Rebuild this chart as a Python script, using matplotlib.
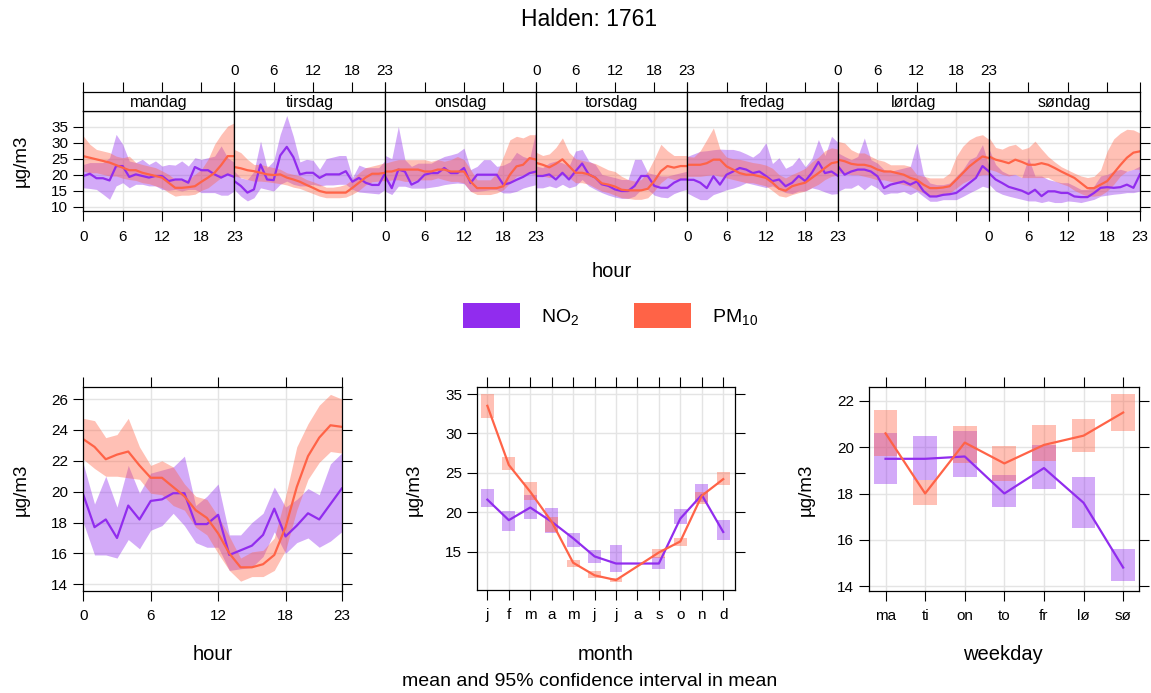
import numpy as np
import matplotlib
matplotlib.use('Agg')
import matplotlib.pyplot as plt
from matplotlib.patches import Rectangle

plt.rcParams['font.family'] = ['Liberation Sans', 'DejaVu Sans']
plt.rcParams['mathtext.default'] = 'regular'

# ---- data -------------------------------------------------------------
days = ['mandag', 'tirsdag', 'onsdag', 'torsdag', 'fredag', 'lørdag', 'søndag']
hours = np.arange(24)

# day-hour NO2 (mean, lower, upper)
no2_mean = [
    [19.6,20.3,18.9,18.9,18.2,22.7,22.7,19.3,20.1,19.6,19.1,19.6,19.6,18.0,18.5,18.5,17.5,22.4,21.4,21.4,20.1,19.1,20.1,19.3],
    [18.0,16.5,14.4,15.4,23.2,18.5,18.3,26.0,28.7,25.5,20.1,20.6,20.6,19.0,20.1,20.1,20.1,21.1,17.8,19.0,17.5,16.8,16.8,20.6],
    [19.5,15.8,21.6,21.0,16.9,17.9,20.0,20.5,20.5,22.1,20.5,20.5,22.1,17.4,20.0,20.0,20.0,20.0,16.9,17.4,18.4,19.3,20.5,21.0],
    [19.6,19.6,20.1,18.5,20.6,18.5,21.1,23.5,20.1,19.1,17.0,16.5,15.4,14.9,14.9,16.5,19.6,19.6,16.5,15.9,15.9,17.5,18.5,18.5],
    [18.4,18.4,17.5,15.8,19.5,16.9,20.0,21.0,22.1,21.6,20.5,21.0,19.6,18.0,18.5,16.4,17.5,19.6,18.0,20.6,24.0,20.5,21.0,19.6],
    [22.6,20.0,21.0,21.6,21.6,21.0,19.5,15.8,16.9,17.4,17.9,16.9,17.9,14.9,13.2,13.2,13.7,13.9,14.3,15.8,17.4,19.0,22.7,21.0],
    [20.5,18.5,17.4,16.2,15.6,15.0,14.0,15.3,13.3,14.8,14.8,14.3,14.3,13.2,13.0,13.0,14.3,15.9,16.1,15.9,16.1,16.9,15.9,20.1],
]
no2_lo = [
    [15.9,15.7,15.4,13.9,12.3,16.5,17.5,15.9,17.0,17.0,16.5,16.5,15.4,15.1,15.4,14.9,15.4,15.4,14.4,14.4,14.4,13.6,13.6,14.9],
    [15.4,13.3,11.8,12.8,15.9,15.4,14.9,17.0,18.0,17.0,16.5,16.5,17.0,16.5,16.8,16.8,17.0,17.0,15.4,14.6,14.4,14.2,14.0,15.4],
    [14.8,13.8,16.4,16.4,15.8,15.8,15.8,16.1,16.4,16.9,17.2,17.4,17.2,14.8,14.8,15.0,15.3,15.3,14.3,14.3,14.8,15.8,16.4,16.9],
    [15.9,15.9,16.5,15.9,17.0,15.9,16.5,18.5,16.5,15.4,14.4,13.6,13.0,12.6,12.6,13.3,15.4,15.4,13.6,13.0,12.8,14.1,14.9,15.4],
    [14.3,13.2,12.2,12.2,13.8,14.5,15.3,15.8,16.5,17.5,17.0,16.5,16.0,16.5,15.4,14.4,14.1,14.9,14.9,15.9,15.4,14.6,13.9,14.1],
    [14.8,15.8,15.8,16.9,15.3,16.9,15.8,13.8,14.3,14.3,14.8,13.8,14.8,13.2,11.7,11.7,12.2,12.2,12.2,13.2,14.3,15.3,16.4,15.8],
    [17.0,14.9,13.9,13.3,12.8,12.3,11.8,11.8,11.3,11.8,11.3,11.3,11.8,11.6,11.3,11.8,12.3,13.3,13.6,13.9,14.1,14.4,14.4,14.9],
]
no2_hi = [
    [23.2,23.8,23.8,23.8,25.3,32.6,29.5,24.3,23.8,24.8,23.2,24.3,22.7,23.2,23.0,24.3,22.7,25.3,24.8,25.3,25.8,29.0,25.3,23.8],
    [21.1,19.0,18.5,21.0,30.5,22.2,24.3,32.6,38.5,32.0,24.0,24.8,24.5,21.7,25.0,25.5,26.0,26.0,19.1,23.0,22.2,22.2,22.2,24.5],
    [26.0,25.0,35.1,24.7,22.6,23.6,23.6,23.6,24.7,25.7,26.2,26.8,28.3,21.6,22.6,24.7,24.7,22.6,23.0,24.0,27.0,25.7,25.0,34.0],
    [22.7,22.2,23.7,24.3,23.7,22.7,27.4,27.9,24.3,23.2,20.1,19.6,19.1,18.5,18.5,24.8,24.8,20.6,20.1,19.6,19.6,20.1,20.6,21.1],
    [25.7,26.5,27.3,27.5,27.8,28.0,27.9,27.9,27.4,26.5,25.5,27.0,30.0,23.5,25.3,22.0,23.0,25.5,22.5,25.0,31.0,26.0,32.0,30.0],
    [26.8,25.7,24.7,25.7,31.5,24.7,23.6,21.6,21.0,21.6,22.1,22.6,29.9,20.0,17.4,16.9,16.9,17.4,19.5,21.6,24.7,25.7,29.4,22.6],
    [28.0,23.2,21.1,20.1,20.1,19.1,25.3,19.6,19.6,18.5,18.0,17.5,17.5,16.5,15.4,15.4,16.5,19.6,20.1,21.1,21.7,21.1,21.7,22.7],
]

# day-hour PM10 (mean, lower, upper)
pm_mean = [
    [25.8,25.3,24.8,24.3,23.8,23.0,22.2,21.4,21.4,20.6,20.1,19.6,19.1,17.5,15.9,15.9,16.1,16.4,17.8,19.1,20.6,23.0,25.8,25.8],
    [22.4,22.0,21.4,21.1,20.6,20.1,19.9,20.1,19.1,18.5,17.8,16.8,15.9,14.9,14.4,14.4,14.4,14.4,15.9,17.5,19.1,20.3,20.3,20.6],
    [21.0,21.0,21.6,21.6,21.6,21.6,21.0,21.0,21.6,21.6,21.0,21.0,21.0,17.9,15.8,15.8,15.8,15.8,16.4,20.0,22.6,23.1,25.2,24.7],
    [23.7,23.1,22.3,23.4,24.8,22.7,20.6,20.6,20.1,19.1,17.3,16.9,16.3,15.3,15.1,15.1,15.1,15.6,18.0,21.1,22.7,22.2,22.7,22.7],
    [23.1,23.1,23.1,23.6,24.7,24.7,22.6,21.6,20.5,20.0,20.0,19.5,19.0,17.5,15.6,15.0,16.4,17.0,17.5,19.0,20.5,22.1,23.6,24.0],
    [24.7,24.2,23.4,23.1,23.1,22.6,21.6,21.0,21.0,20.5,20.0,19.0,18.4,16.9,15.8,15.8,16.0,16.4,18.4,20.5,22.6,24.2,25.7,25.2],
    [25.7,24.7,24.2,23.6,24.7,24.0,23.1,23.1,23.6,23.1,22.1,21.0,20.0,19.0,17.4,15.8,15.8,16.9,18.0,20.5,23.0,25.3,26.9,27.3],
]
pm_lo = [
    [21.1,20.6,20.6,20.1,19.6,19.6,18.9,18.5,18.2,17.5,17.2,16.5,15.9,14.4,13.3,13.6,13.6,13.9,15.1,15.9,17.5,19.1,20.1,20.1],
    [19.6,19.1,18.5,18.0,18.0,17.8,17.5,17.2,16.8,16.1,15.7,14.9,14.1,13.3,12.8,12.8,12.8,13.0,13.9,15.1,16.8,17.8,18.0,18.2],
    [17.9,18.4,18.4,17.9,17.9,18.4,18.4,18.4,19.0,18.4,17.9,17.9,17.4,14.8,13.8,13.8,13.8,14.3,15.3,17.4,19.5,20.0,20.5,20.0],
    [19.6,19.6,19.1,19.6,20.1,19.1,17.5,17.5,17.0,15.9,14.9,14.4,13.6,12.8,12.6,12.3,12.3,12.8,14.9,17.5,19.1,18.5,18.5,18.5],
    [19.5,19.5,19.5,19.8,20.0,19.5,19.0,18.5,18.0,17.5,17.5,17.0,16.5,15.0,13.4,13.0,13.8,14.4,14.9,16.0,17.0,18.5,19.5,20.0],
    [20.5,20.5,20.0,20.0,19.5,19.0,18.4,18.4,17.9,17.4,16.9,16.4,15.3,14.3,13.2,13.2,13.8,14.3,15.8,17.4,18.4,19.5,20.0,20.0],
    [21.7,21.1,20.1,19.6,20.1,19.1,19.1,19.1,19.1,19.1,18.0,17.2,16.5,15.1,14.1,13.3,13.3,13.6,14.9,17.0,19.6,21.1,21.7,21.7],
]
pm_hi = [
    [32.1,29.5,27.9,27.4,26.9,25.8,25.3,25.8,23.8,23.2,22.7,22.2,21.2,20.1,18.5,18.2,18.5,20.1,21.7,24.8,29.5,32.6,35.2,36.2],
    [27.9,26.9,24.8,23.2,23.2,22.7,22.2,21.7,20.6,20.1,19.6,18.5,17.8,17.0,16.1,16.1,16.4,17.0,18.5,20.6,22.2,22.7,23.2,23.8],
    [23.6,24.2,24.7,24.7,24.7,24.7,24.7,24.2,24.7,24.2,24.7,25.7,24.7,21.6,18.4,18.4,18.4,20.5,25.7,30.9,32.0,31.5,32.5,32.5],
    [27.0,26.0,26.5,28.5,31.5,27.0,25.0,24.5,24.0,23.5,22.5,21.5,21.0,19.5,18.5,18.0,18.5,21.0,25.0,29.5,27.5,26.0,26.0,26.0],
    [25.7,25.5,27.5,31.0,34.6,28.0,25.5,25.0,24.8,24.3,23.8,23.5,23.0,22.0,20.0,19.0,20.1,21.0,22.0,24.0,25.5,27.5,28.4,28.0],
    [30.4,29.9,27.8,26.8,26.8,25.7,24.7,24.2,23.1,23.1,23.1,22.6,20.0,19.5,19.0,19.0,19.0,20.5,25.7,28.9,30.9,32.0,32.5,31.0],
    [31.6,28.5,28.0,29.0,29.5,27.9,28.5,30.5,28.0,25.7,24.0,22.5,21.5,20.5,19.6,19.1,19.5,21.5,27.4,31.2,33.0,34.2,34.0,33.0],
]

# hour of day
hr_no2 = [19.8,17.7,18.2,17.0,19.1,18.2,19.4,19.5,19.9,19.9,17.9,17.9,18.5,15.9,16.2,16.5,17.2,18.9,17.1,17.8,18.6,18.2,19.2,20.2]
hr_no2_lo = [18.0,15.9,15.9,15.7,16.9,16.3,17.5,17.8,18.6,17.8,16.7,16.4,16.4,14.9,15.0,15.1,15.8,17.4,16.0,16.7,17.0,16.4,16.8,17.4]
hr_no2_hi = [21.8,19.2,21.0,19.0,21.7,19.9,21.2,21.4,21.6,22.3,19.1,19.7,20.5,17.2,17.2,18.0,18.6,20.3,19.0,19.5,20.2,19.8,21.8,22.5]
hr_pm = [23.4,22.9,22.1,22.4,22.6,21.7,20.9,20.9,20.3,19.7,18.8,18.3,17.3,16.0,15.1,15.1,15.3,15.9,17.7,20.3,22.3,23.5,24.3,24.2]
hr_pm_lo = [22.1,21.5,21.0,21.0,20.9,20.8,19.9,19.8,19.1,18.8,17.7,17.2,16.0,14.9,14.2,14.5,14.5,14.9,16.2,18.8,20.8,21.9,22.6,22.5]
hr_pm_hi = [24.75,24.6,23.5,23.7,24.75,22.9,21.7,22.0,21.6,20.5,19.7,19.5,18.4,17.1,15.7,16.1,16.2,17.0,19.7,22.9,24.4,25.6,26.3,26.0]

# month (August missing)
months = ['j', 'f', 'm', 'a', 'm', 'j', 'j', 'a', 's', 'o', 'n', 'd']
mon_no2 = [21.6,19.0,20.6,18.8,16.7,14.4,13.5,np.nan,13.5,19.2,22.2,17.5]
mon_no2_lo = [20.7,17.6,19.2,17.4,15.6,13.6,12.4,np.nan,12.8,18.5,21.3,16.5]
mon_no2_hi = [22.9,20.1,22.2,20.6,17.4,15.2,15.8,np.nan,14.3,20.4,23.6,19.0]
mon_pm = [33.5,26.0,22.6,18.8,13.6,12.0,11.4,np.nan,14.9,16.3,22.1,24.2]
mon_pm_lo = [31.9,25.4,21.6,17.5,13.1,11.7,11.2,np.nan,14.2,15.7,21.1,23.5]
mon_pm_hi = [35.0,27.0,23.9,19.4,13.9,12.5,11.7,np.nan,15.4,16.7,22.6,25.1]

# weekday
wdays = ['ma', 'ti', 'on', 'to', 'fr', 'lø', 'sø']
wd_no2 = [19.5,19.5,19.6,18.0,19.1,17.6,14.8]
wd_no2_lo = [18.4,18.6,18.7,17.4,18.2,16.5,14.2]
wd_no2_hi = [20.6,20.5,20.7,18.8,20.1,18.7,15.6]
wd_pm = [20.6,18.0,20.2,19.3,20.1,20.5,21.5]
wd_pm_lo = [19.6,17.5,19.3,18.55,19.4,19.8,20.7]
wd_pm_hi = [21.6,18.6,20.9,20.05,20.95,21.2,22.3]

# ---- style ------------------------------------------------------------
PURPLE = '#912CEE'
TOMATO = '#FF6347'
GRID = '#E4E4E4'
ALPHA = 0.4
TICK_FS = 11
LAB_FS = 14.5
W, H = 1151, 693

fig = plt.figure(figsize=(W / 100, H / 100), dpi=100)


def add_ax(x0, y0, x1, y1):
    return fig.add_axes([x0 / W, 1 - y1 / H, (x1 - x0) / W, (y1 - y0) / H])


def frame(ax):
    for s in ax.spines.values():
        s.set_color('black')
        s.set_linewidth(0.9)
    ax.tick_params(direction='out', length=7, width=0.8, labelsize=TICK_FS,
                   colors='black', pad=4)


def band(ax, x, lo, hi, mean, col):
    ax.fill_between(x, lo, hi, color=col, alpha=ALPHA, lw=0)
    ax.plot(x, mean, color=col, lw=1.6)


# ---- day-hour panels --------------------------------------------------
DW = (1140 - 83.3) / 7
for i, day in enumerate(days):
    x0 = 83.3 + i * DW
    ax = add_ax(x0, 110.7, x0 + DW, 210.7)
    st = add_ax(x0, 91.7, x0 + DW, 110.7)
    ax.set_xlim(0, 23)
    ax.set_ylim(8.75, 40)
    for v in range(10, 40, 5):
        ax.axhline(v, color=GRID, lw=1, zorder=0)
    for v in (6, 12, 18):
        ax.axvline(v, color=GRID, lw=1, zorder=0)
    band(ax, hours, no2_lo[i], no2_hi[i], no2_mean[i], PURPLE)
    band(ax, hours, pm_lo[i], pm_hi[i], pm_mean[i], TOMATO)
    frame(ax)
    ax.set_xticks([0, 6, 12, 18, 23])
    ax.tick_params(axis='x', labelbottom=(i % 2 == 0), pad=7)
    ax.set_yticks(range(10, 40, 5))
    if i == 0:
        ax.tick_params(axis='y', left=True, labelleft=True)
    elif i == 6:
        ax.tick_params(axis='y', left=False, labelleft=False, right=True)
    else:
        ax.tick_params(axis='y', left=False, labelleft=False)

    st.set_xlim(0, 23)
    st.set_ylim(0, 1)
    frame(st)
    st.set_yticks([])
    st.set_xticks([0, 6, 12, 18, 23])
    st.tick_params(axis='x', bottom=False, labelbottom=False, top=True,
                   labeltop=(i % 2 == 1), pad=3)
    st.text(11.5, 0.42, day, ha='center', va='center', fontsize=11.5)

fig.text(21 / W, 1 - 161 / H, 'µg/m3', rotation=90, ha='center', va='center', fontsize=13.5)
fig.text(612 / W, 1 - 272 / H, 'hour', ha='center', va='center', fontsize=LAB_FS)

# legend
for x0, col, lab in [(462.7, PURPLE, 'NO$_2$'), (634.3, TOMATO, 'PM$_{10}$')]:
    fig.add_artist(Rectangle((x0 / W, 1 - 327.7 / H), 57 / W, 24.4 / H,
                             transform=fig.transFigure, color=col, lw=0))
    fig.text((x0 + 78) / W, 1 - 317 / H, lab, ha='left', va='center', fontsize=14)

fig.text(589 / W, 1 - 20 / H, 'Halden: 1761', ha='center', va='center', fontsize=16.5)

# ---- hour panel -------------------------------------------------------
ax = add_ax(83.3, 387.3, 341.7, 590.7)
ax.set_xlim(0, 23)
ax.set_ylim(13.585, 26.76)
for v in range(14, 27, 2):
    ax.axhline(v, color=GRID, lw=1, zorder=0)
for v in (6, 12, 18):
    ax.axvline(v, color=GRID, lw=1, zorder=0)
band(ax, hours, hr_no2_lo, hr_no2_hi, hr_no2, PURPLE)
band(ax, hours, hr_pm_lo, hr_pm_hi, hr_pm, TOMATO)
frame(ax)
ax.set_xticks([0, 6, 12, 18, 23])
ax.set_yticks(range(14, 27, 2))
ax.tick_params(top=True, right=True)
ax.tick_params(axis='x', pad=6)
fig.text(21.5 / W, 1 - 490 / H, 'µg/m3', rotation=90, ha='center', va='center', fontsize=13.5)
fig.text(213 / W, 1 - 655 / H, 'hour', ha='center', va='center', fontsize=LAB_FS)

# ---- month panel ------------------------------------------------------
mx = np.arange(1, 13)
ax = add_ax(477.3, 387.3, 735, 590)
ax.set_xlim(0.53, 12.55)
ax.set_ylim(10.14, 35.85)
for v in range(15, 36, 5):
    ax.axhline(v, color=GRID, lw=1, zorder=0)
for v in mx:
    ax.axvline(v, color=GRID, lw=1, zorder=0)
for mean, lo, hi, col in [(mon_no2, mon_no2_lo, mon_no2_hi, PURPLE),
                          (mon_pm, mon_pm_lo, mon_pm_hi, TOMATO)]:
    mean, lo, hi = np.array(mean), np.array(lo), np.array(hi)
    ok = ~np.isnan(mean)
    ax.bar(mx[ok], (hi - lo)[ok], bottom=lo[ok], width=0.6, color=col, alpha=ALPHA, lw=0)
    ax.plot(mx[ok], mean[ok], color=col, lw=1.6)
frame(ax)
ax.set_xticks(mx)
ax.set_xticklabels(months)
ax.set_yticks(range(15, 36, 5))
ax.tick_params(top=True, right=True)
ax.tick_params(axis='x', pad=6)
fig.text(414 / W, 1 - 490 / H, 'µg/m3', rotation=90, ha='center', va='center', fontsize=13.5)
fig.text(606 / W, 1 - 655 / H, 'month', ha='center', va='center', fontsize=LAB_FS)
fig.text(590 / W, 1 - 681 / H, 'mean and 95% confidence interval in mean',
         ha='center', va='center', fontsize=14)

# ---- weekday panel ----------------------------------------------------
wx = np.arange(1, 8)
ax = add_ax(869.3, 387.3, 1139, 590.7)
ax.set_xlim(0.59, 7.4)
ax.set_ylim(13.8, 22.59)
for v in range(14, 23, 2):
    ax.axhline(v, color=GRID, lw=1, zorder=0)
for v in wx:
    ax.axvline(v, color=GRID, lw=1, zorder=0)
for mean, lo, hi, col in [(wd_no2, wd_no2_lo, wd_no2_hi, PURPLE),
                          (wd_pm, wd_pm_lo, wd_pm_hi, TOMATO)]:
    lo, hi = np.array(lo), np.array(hi)
    ax.bar(wx, hi - lo, bottom=lo, width=0.6, color=col, alpha=ALPHA, lw=0)
    ax.plot(wx, mean, color=col, lw=1.6)
frame(ax)
ax.set_xticks(wx)
ax.set_xticklabels(wdays)
ax.set_yticks(range(14, 23, 2))
ax.tick_params(top=True, right=True)
ax.tick_params(axis='x', pad=6)
fig.text(806 / W, 1 - 490 / H, 'µg/m3', rotation=90, ha='center', va='center', fontsize=13.5)
fig.text(1003 / W, 1 - 655 / H, 'weekday', ha='center', va='center', fontsize=LAB_FS)

fig.savefig('out.png', dpi=100)
